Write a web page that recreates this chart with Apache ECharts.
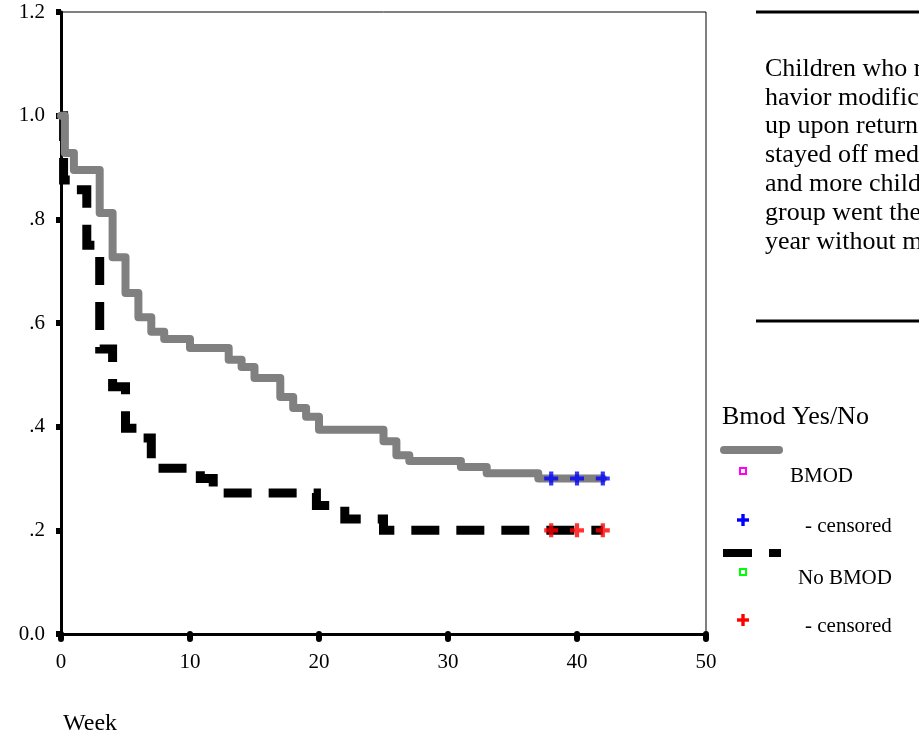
<!DOCTYPE html>
<html>
<head>
<meta charset="utf-8">
<script src="https://cdn.jsdelivr.net/npm/echarts@6/dist/echarts.min.js"></script>
<style>
  html, body { margin: 0; padding: 0; background: #fff; }
  #main { width: 919px; height: 740px; }
</style>
</head>
<body>
<div id="main"></div>
<script>
// Kaplan-Meier steps
let bmodWeek = [0, 0.3, 1, 3, 4, 5, 6, 7, 8, 10, 13, 14, 15, 17, 18, 19, 20, 25, 26, 27, 31, 33, 37, 42];
let bmodSurv = [1.0, 0.928, 0.895, 0.812, 0.727, 0.658, 0.611, 0.583, 0.569, 0.552, 0.529, 0.515, 0.494, 0.457, 0.436, 0.419, 0.394, 0.372, 0.345, 0.334, 0.322, 0.31, 0.30, 0.30];

let noBmodWeek = [0, 0.2, 1, 2, 3, 4, 5, 6, 7, 10.8, 11.8, 19.8, 22, 25, 42];
let noBmodSurv = [1.0, 0.876, 0.857, 0.75, 0.55, 0.477, 0.397, 0.378, 0.32, 0.30, 0.272, 0.248, 0.222, 0.2, 0.2];

// censored cases
let censWeek = [38, 40, 42];
let bmodCensSurv = [0.30, 0.30, 0.30];
let noBmodCensSurv = [0.2, 0.2, 0.2];

let noteLines = [
  'Children who received be-',
  'havior modification followed',
  'up upon return to school',
  'stayed off medication longer,',
  'and more children in the BMOD',
  'group went the rest of the',
  'year without medication.'
];

let serif = 'Liberation Serif';
let plus = 'path://M3.5,0h3v3.5h3.5v3h-3.5v3.5h-3v-3.5h-3.5v-3h3.5z';

function pairs(xs, ys) {
  return xs.map(function (x, i) { return [x, ys[i]]; });
}

// little "+" for the legend, made of two bars
function plusMark(cx, cy, color) {
  return [
    { type: 'rect', shape: { x: cx - 6, y: cy - 1.7, width: 12, height: 3.4 }, style: { fill: color } },
    { type: 'rect', shape: { x: cx - 1.7, y: cy - 6, width: 3.4, height: 12 }, style: { fill: color } }
  ];
}

let chart = echarts.init(document.getElementById('main'));

let graphics = [];
// note box
graphics.push({ type: 'line', shape: { x1: 756, y1: 12, x2: 919, y2: 12 }, style: { stroke: '#000', lineWidth: 3 } });
graphics.push({ type: 'line', shape: { x1: 756, y1: 321, x2: 919, y2: 321 }, style: { stroke: '#000', lineWidth: 3 } });
noteLines.forEach(function (t, i) {
  graphics.push({
    type: 'text', x: 765, y: 56 + i * 28.8,
    style: { text: t, font: '26px "' + serif + '"', fill: '#000' }
  });
});
// legend
graphics.push({ type: 'text', x: 722, y: 404, style: { text: 'Bmod Yes/No', font: '26px "' + serif + '"', fill: '#000' } });
graphics.push({ type: 'line', shape: { x1: 724, y1: 450, x2: 779, y2: 450 }, style: { stroke: '#808080', lineWidth: 8, lineCap: 'round' } });
graphics.push({ type: 'rect', shape: { x: 740, y: 468, width: 6, height: 6 }, style: { fill: '#fff', stroke: '#ff00ff', lineWidth: 2 } });
graphics.push({ type: 'text', x: 790, y: 466, style: { text: 'BMOD', font: '21px "' + serif + '"', fill: '#000' } });
graphics = graphics.concat(plusMark(743, 520, '#0000ff'));
graphics.push({ type: 'text', x: 805, y: 516, style: { text: '- censored', font: '21px "' + serif + '"', fill: '#000' } });
graphics.push({ type: 'line', shape: { x1: 723, y1: 553, x2: 752, y2: 553 }, style: { stroke: '#000', lineWidth: 8 } });
graphics.push({ type: 'line', shape: { x1: 769, y1: 553, x2: 781, y2: 553 }, style: { stroke: '#000', lineWidth: 8 } });
graphics.push({ type: 'rect', shape: { x: 740, y: 569, width: 6, height: 6 }, style: { fill: '#fff', stroke: '#00ff00', lineWidth: 2 } });
graphics.push({ type: 'text', x: 798, y: 568, style: { text: 'No BMOD', font: '21px "' + serif + '"', fill: '#000' } });
graphics = graphics.concat(plusMark(743, 620, '#ff0000'));
graphics.push({ type: 'text', x: 805, y: 616, style: { text: '- censored', font: '21px "' + serif + '"', fill: '#000' } });
// axis title
graphics.push({ type: 'text', x: 63, y: 712, style: { text: 'Week', font: '24px "' + serif + '"', fill: '#000' } });

let option = {
  backgroundColor: '#fff',
  animation: false,
  grid: {
    left: 61, right: 213, top: 12, bottom: 106,
    show: true, borderColor: '#000', borderWidth: 1
  },
  xAxis: [{
    type: 'value', min: 0, max: 50, interval: 10,
    axisLine: { show: true, onZero: false, lineStyle: { color: '#000', width: 3 } },
    axisTick: { show: true, length: 5, lineStyle: { color: '#000', width: 6, cap: 'round' } },
    axisLabel: { margin: 18, color: '#000', fontFamily: serif, fontSize: 21 },
    splitLine: { show: false }
  }],
  yAxis: [{
    type: 'value', min: 0, max: 1.2, interval: 0.2,
    axisLine: { show: true, onZero: false, lineStyle: { color: '#000', width: 2 } },
    axisTick: { show: true, length: 5, lineStyle: { color: '#000', width: 6 } },
    axisLabel: {
      margin: 16, color: '#000', fontFamily: serif, fontSize: 21,
      formatter: function (v) {
        let s = v.toFixed(1);
        return v > 0 && v < 1 ? s.slice(1) : s;
      }
    },
    splitLine: { show: false }
  }, {
    type: 'value', min: 0, max: 1.2, interval: 0.2, position: 'right',
    axisLine: { show: true, lineStyle: { color: '#000', width: 3 } },
    axisTick: { show: false }, axisLabel: { show: false }, splitLine: { show: false }
  }],
  series: [
    {
      name: 'No BMOD', type: 'line', step: 'end', showSymbol: false,
      data: pairs(noBmodWeek, noBmodSurv),
      lineStyle: { color: '#000', width: 9, type: [28, 17], cap: 'butt', join: 'miter' },
      z: 2
    },
    {
      name: 'BMOD', type: 'line', step: 'end', showSymbol: false,
      data: pairs(bmodWeek, bmodSurv),
      lineStyle: { color: '#808080', width: 8, cap: 'round', join: 'round' },
      z: 3
    },
    {
      name: 'BMOD censored', type: 'scatter', symbol: plus, symbolSize: 14,
      data: pairs(censWeek, bmodCensSurv),
      itemStyle: { color: '#0000ff' }, z: 4
    },
    {
      name: 'No BMOD censored', type: 'scatter', symbol: plus, symbolSize: 14,
      data: pairs(censWeek, noBmodCensSurv),
      itemStyle: { color: '#ff0000' }, z: 4
    }
  ],
  graphic: graphics
};

chart.setOption(option);
</script>
</body>
</html>
